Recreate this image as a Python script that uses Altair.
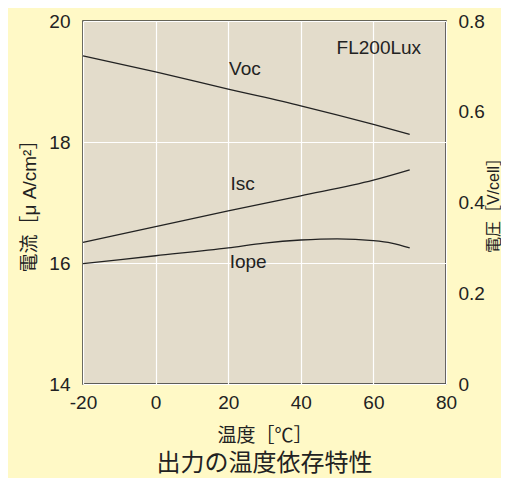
import altair as alt
import pandas as pd

temps = [-20, 0, 20, 40, 60, 70]
voc = [0.723, 0.688, 0.650, 0.613, 0.572, 0.550]
isc = [16.34, 16.60, 16.86, 17.11, 17.37, 17.54]
iope_t = [-20, 0, 20, 30, 40, 50, 60, 65, 70]
iope = [15.99, 16.12, 16.25, 16.33, 16.38, 16.40, 16.37, 16.33, 16.25]

cur_labels = ["Isc", "Iope"]
cur_label_x = [24, 25.5]
cur_label_y = [17.31, 16.02]
volt_label = ["Voc", "FL200Lux"]
volt_label_x = [24.6, 61.5]
volt_label_y = [0.694, 0.741]

FONT = "Liberation Sans, Arial, Noto Sans CJK JP, sans-serif"
INK = "#222222"

cur_df = pd.DataFrame(
    {"t": temps + iope_t,
     "v": isc + iope,
     "s": ["Isc"] * len(temps) + ["Iope"] * len(iope_t)}
)
volt_df = pd.DataFrame({"t": temps, "v": voc, "s": ["Voc"] * len(temps)})
cur_lab_df = pd.DataFrame({"t": cur_label_x, "v": cur_label_y, "txt": cur_labels})
volt_lab_df = pd.DataFrame({"t": volt_label_x, "v": volt_label_y, "txt": volt_label})

x_enc = alt.X(
    "t:Q",
    scale=alt.Scale(domain=[-20, 80], nice=False),
    axis=alt.Axis(
        values=list(range(-20, 81, 10)),
        labelExpr="datum.value % 20 == 0 ? '' + datum.value : ''",
        title="温度［℃］",
        titleX=181.5, titleY=51, titleBaseline="middle",
        titleFontSize=19, titleFontWeight="normal", titleColor=INK,
        labelFontSize=19, labelColor=INK, labelPadding=9,
        ticks=False, domain=False, labelFlush=False,
        grid=True, gridColor="white", gridWidth=1.2, gridOpacity=1,
    ),
)

y_left = alt.Y(
    "v:Q",
    scale=alt.Scale(domain=[14, 20], nice=False),
    axis=alt.Axis(
        values=[14, 16, 18, 20],
        labelExpr="'' + datum.value",
        title="電流［μ A/cm²］",
        titleAngle=270, titleX=-54, titleY=180, titleAlign="center",
        titleBaseline="middle",
        titleFontSize=19, titleFontWeight="normal", titleColor=INK,
        labelFontSize=19, labelColor=INK, labelPadding=13,
        ticks=False, domain=False,
        grid=True, gridColor="white", gridWidth=1.2, gridOpacity=1,
    ),
)

y_right = alt.Y(
    "v:Q",
    scale=alt.Scale(domain=[0, 0.8], nice=False),
    axis=alt.Axis(
        orient="right",
        values=[0, 0.2, 0.4, 0.6, 0.8],
        labelExpr="datum.value == 0 ? '0' : format(datum.value, '.1f')",
        title="電圧［V/cell］",
        titleAngle=270, titleX=47, titleY=180, titleAlign="center",
        titleBaseline="middle",
        titleFontSize=16, titleFontWeight="normal", titleColor=INK,
        labelFontSize=19, labelColor=INK, labelPadding=12,
        ticks=False, domain=False, grid=False,
    ),
)

cur_lines = alt.Chart(cur_df).mark_line(
    color=INK, strokeWidth=1.3, interpolate="monotone"
).encode(x=x_enc, y=y_left, detail="s:N")

cur_text = alt.Chart(cur_lab_df).mark_text(
    fontSize=19, color=INK, font=FONT
).encode(x="t:Q", y="v:Q", text="txt:N")

volt_lines = alt.Chart(volt_df).mark_line(
    color=INK, strokeWidth=1.3, interpolate="monotone"
).encode(x="t:Q", y=y_right, detail="s:N")

volt_text = alt.Chart(volt_lab_df).mark_text(
    fontSize=19, color=INK, font=FONT
).encode(x="t:Q", y="v:Q", text="txt:N")

left = alt.layer(cur_lines, cur_text)
right = alt.layer(volt_lines, volt_text)

chart = (
    alt.layer(left, right)
    .resolve_scale(y="independent")
    .properties(
        width=363,
        height=363,
        autosize=alt.AutoSizeParams(type="none"),
        padding={"left": 75, "top": 13, "right": 55, "bottom": 94},
        background="#FFF9C6",
        title=alt.TitleParams(
            "出力の温度依存特性", orient="bottom", anchor="middle",
            fontSize=24, fontWeight="normal", color=INK, offset=7,
            font=FONT,
        ),
    )
    .configure_view(fill="#E3DCCB", stroke="#333333", strokeWidth=1.6)
    .configure_axis(labelFont=FONT, titleFont=FONT)
)

chart.save("out.html", embed_options={"renderer": "svg", "actions": False})
